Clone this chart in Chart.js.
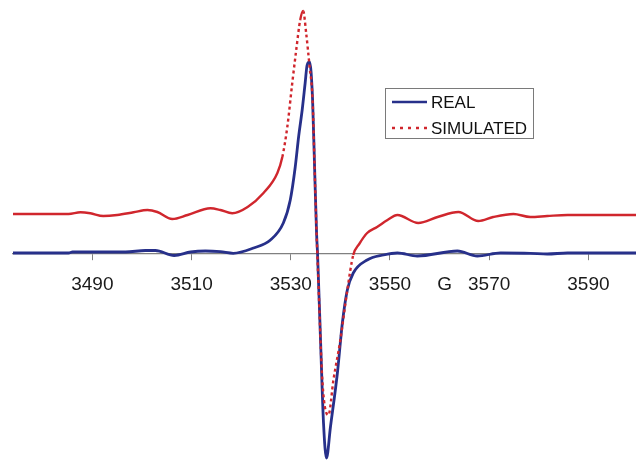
<!DOCTYPE html>
<html>
<head>
<meta charset="utf-8">
<script src="https://cdn.jsdelivr.net/npm/chart.js@4"></script>
<style>
  body { margin: 0; background: #fff; }
  #wrap { width: 636px; height: 460px; }
</style>
</head>
<body>
<div id="wrap"><canvas id="grafico"></canvas></div>
<script>
// field (G) and signal values
const realField = [3474, 3485.2, 3486, 3496.7, 3500.7, 3502.7, 3506.5, 3509.8, 3512.8, 3515.8, 3518.4,
  3522.5, 3525.9, 3528.5, 3529.9, 3530.9, 3531.6, 3532.3, 3532.9, 3533.3, 3533.8, 3534.4, 3534.8,
  3535.2, 3535.4, 3536.0, 3536.6, 3537.2, 3538.0, 3539.4, 3540.4, 3541.4, 3542.6, 3545.4, 3548.7,
  3551.5, 3555.5, 3563.6, 3567.6, 3572.3, 3578.3, 3581.7, 3585.8, 3600];
const realSignal = [1, 1, 2, 2, 3.5, 3.5, -1.5, 2, 3, 2.3, 0.7,
  6, 14, 31, 54, 87, 118, 144, 171, 189, 192, 154, 87,
  21, 0, -86, -169, -204, -173, -119, -69, -36, -19, -6, -1,
  1, -2, 3, -2, 1, 0.7, 0, 1, 1];

const simField = [3474, 3485.2, 3487.6, 3489.6, 3492.2, 3495.0, 3498.3, 3501.1, 3503.1, 3506.1, 3509.2,
  3513.8, 3515.8, 3518.2, 3521.3, 3524.5, 3527.3, 3528.3, 3529.3, 3530.3, 3531.1, 3531.9, 3532.5,
  3533.1, 3533.8, 3534.4, 3534.8, 3535.2, 3535.5, 3536.4, 3537.6, 3538.6, 3540.0, 3541.4, 3542.6,
  3543.8, 3545.4, 3547.4, 3549.5, 3551.5, 3555.7, 3559.6, 3563.8, 3567.8, 3570.8, 3574.9, 3578.3,
  3581.7, 3585.8, 3600];
const simSignal = [40, 40, 41.7, 40.7, 38, 39, 41.7, 44, 42, 35, 39,
  45.7, 44, 40.7, 47, 61, 81, 97, 127, 171, 204, 234, 243,
  221, 187, 154, 87, 21, -19, -129, -161, -126, -86, -36, -1,
  10, 21, 27, 34, 39, 31, 37, 42, 33, 37, 40, 37,
  38, 39, 39];

const tickValues = [3490, 3510, 3530, 3550, 3561, 3570, 3590];
const tickLabels = ["3490", "3510", "3530", "3550", "G", "3570", "3590"];

const azul = "#27308a";
const vermelho = "#d0262d";

const pontos = (xs, ys) => xs.map((x, i) => ({ x: x, y: ys[i] }));

// dotted only where the curve is steep, like the original plot
const tracejado = (ctx) => {
  const dx = Math.abs(ctx.p1.x - ctx.p0.x);
  const dy = Math.abs(ctx.p1.y - ctx.p0.y);
  return dy > 3.5 * dx ? [3, 3] : [];
};

const legenda = {
  id: "legenda",
  afterDraw(chart) {
    const c = chart.ctx;
    c.save();
    c.fillStyle = "#fff";
    c.fillRect(385.5, 88.5, 148, 50);
    c.strokeStyle = "#7a7a7a";
    c.lineWidth = 1;
    c.strokeRect(385.5, 88.5, 148, 50);

    c.lineWidth = 2.5;
    c.strokeStyle = azul;
    c.beginPath();
    c.moveTo(392, 102);
    c.lineTo(427, 102);
    c.stroke();

    c.strokeStyle = vermelho;
    c.setLineDash([3, 5]);
    c.beginPath();
    c.moveTo(392, 128);
    c.lineTo(427, 128);
    c.stroke();
    c.setLineDash([]);

    c.fillStyle = "#111";
    c.font = "17px 'Liberation Sans', Arial, sans-serif";
    c.textBaseline = "middle";
    c.fillText(chart.data.datasets[0].label, 431, 103);
    c.fillText(chart.data.datasets[1].label, 431, 129);
    c.restore();
  },
};

new Chart(document.getElementById("grafico"), {
  type: "line",
  data: {
    datasets: [
      {
        label: "REAL",
        data: pontos(realField, realSignal),
        borderColor: azul,
        borderWidth: 2.8,
        pointRadius: 0,
        cubicInterpolationMode: "monotone",
        order: 2,
      },
      {
        label: "SIMULATED",
        data: pontos(simField, simSignal),
        borderColor: vermelho,
        borderWidth: 2.4,
        pointRadius: 0,
        cubicInterpolationMode: "monotone",
        segment: { borderDash: tracejado },
        order: 1,
      },
    ],
  },
  options: {
    responsive: true,
    maintainAspectRatio: false,
    animation: false,
    layout: { padding: { left: 13, top: 0, right: 0, bottom: 0 } },
    plugins: { legend: { display: false }, tooltip: { enabled: false } },
    scales: {
      x: {
        type: "linear",
        position: { y: 0 },
        min: 3474,
        max: 3599.6,
        afterBuildTicks: (scale) => {
          scale.ticks = tickValues.map((v) => ({ value: v }));
        },
        ticks: {
          autoSkip: false,
          maxRotation: 0,
          padding: 13,
          color: "#1a1a1a",
          font: { family: "'Liberation Sans', Arial, sans-serif", size: 19 },
          callback: (value) => tickLabels[tickValues.indexOf(value)],
        },
        grid: {
          drawOnChartArea: false,
          tickLength: 6,
          color: (ctx) => (ctx.tick && ctx.tick.value === 3561 ? "rgba(0,0,0,0)" : "#808080"),
        },
        border: { color: "#808080", width: 1.2 },
      },
      y: {
        display: false,
        min: -206,
        max: 254,
      },
    },
  },
  plugins: [legenda],
});
</script>
</body>
</html>
